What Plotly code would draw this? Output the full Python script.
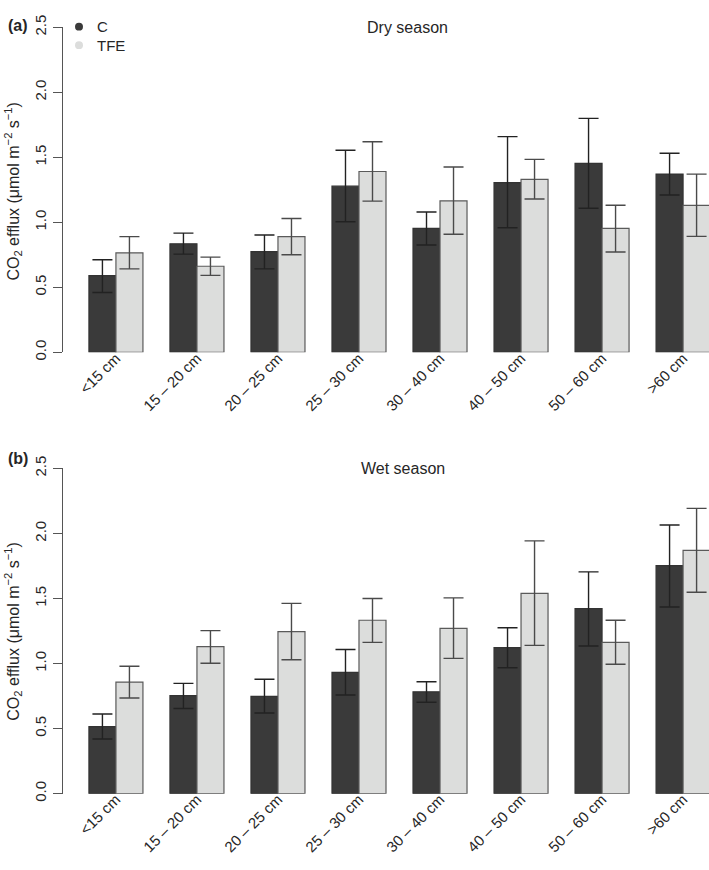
import plotly.graph_objects as go

depths = ["<15 cm", "15 – 20 cm", "20 – 25 cm", "25 – 30 cm",
          "30 – 40 cm", "40 – 50 cm", "50 – 60 cm", ">60 cm"]

# dry season (a)
dry_c = [0.59, 0.835, 0.775, 1.278, 0.953, 1.306, 1.454, 1.371]
dry_c_hi = [0.712, 0.917, 0.902, 1.554, 1.08, 1.659, 1.80, 1.532]
dry_c_lo = [0.46, 0.755, 0.642, 1.005, 0.825, 0.958, 1.108, 1.21]
dry_t = [0.765, 0.662, 0.89, 1.391, 1.165, 1.331, 0.953, 1.131]
dry_t_hi = [0.89, 0.732, 1.03, 1.62, 1.426, 1.484, 1.131, 1.371]
dry_t_lo = [0.642, 0.592, 0.75, 1.163, 0.908, 1.18, 0.772, 0.892]

# wet season (b)
wet_c = [0.515, 0.753, 0.748, 0.933, 0.783, 1.123, 1.423, 1.753]
wet_c_hi = [0.613, 0.848, 0.88, 1.108, 0.86, 1.275, 1.705, 2.065]
wet_c_lo = [0.42, 0.655, 0.62, 0.758, 0.703, 0.968, 1.135, 1.435]
wet_t = [0.858, 1.13, 1.245, 1.333, 1.27, 1.54, 1.163, 1.87]
wet_t_hi = [0.98, 1.253, 1.463, 1.50, 1.505, 1.943, 1.333, 2.193]
wet_t_lo = [0.735, 1.003, 1.03, 1.163, 1.04, 1.14, 0.995, 1.548]

pos = [3 * i for i in range(len(depths))]
C_COL = "#3a3a3a"
T_COL = "#dcdddc"
FONT = "Liberation Sans, Arial, sans-serif"
TXT = "#262626"

fig = go.Figure()

def add_bars(vals, hi, lo, xa, ya, color, line_col, err_col, name):
    fig.add_trace(go.Bar(
        x=pos, y=vals, xaxis=xa, yaxis=ya, name=name, showlegend=False,
        marker=dict(color=color, line=dict(color=line_col, width=1.2)),
        error_y=dict(type="data", symmetric=False,
                     array=[h - v for h, v in zip(hi, vals)],
                     arrayminus=[v - l for v, l in zip(vals, lo)],
                     color=err_col, thickness=1.4, width=10),
    ))

add_bars(dry_c, dry_c_hi, dry_c_lo, "x", "y", C_COL, "#333333", "#222222", "C")
add_bars(dry_t, dry_t_hi, dry_t_lo, "x", "y", T_COL, "#5a5a5a", "#4a4a4a", "TFE")
add_bars(wet_c, wet_c_hi, wet_c_lo, "x2", "y2", C_COL, "#333333", "#222222", "C")
add_bars(wet_t, wet_t_hi, wet_t_lo, "x2", "y2", T_COL, "#5a5a5a", "#4a4a4a", "TFE")

xaxis_style = dict(range=[-1.96, 21.96], tickvals=pos, ticktext=depths,
                   tickangle=-45, showline=False, showgrid=False, zeroline=False,
                   ticks="", anchor="free",
                   tickfont=dict(size=15, color=TXT, family=FONT))
yaxis_style = dict(range=[0, 2.5], tickvals=[0, 0.5, 1, 1.5, 2, 2.5],
                   ticktext=["0.0", "0.5", "1.0", "1.5", "2.0", "2.5"],
                   tickangle=-90, showline=True, linecolor="#555555", linewidth=1.2,
                   ticks="outside", ticklen=9, tickcolor="#555555", tickwidth=1.2,
                   ticklabelstandoff=1,
                   showgrid=False, zeroline=False,
                   tickfont=dict(size=15, color=TXT, family=FONT))

H = 870
fig.update_layout(
    width=709, height=H, plot_bgcolor="white", paper_bgcolor="white",
    margin=dict(l=63, r=0, t=0, b=0),
    barmode="group", bargap=1 / 3, bargroupgap=0,
    xaxis=dict(position=1 - 341 / H, **xaxis_style),
    xaxis2=dict(position=1 - 793 / H, **xaxis_style),
    yaxis=dict(domain=[1 - 347.7 / H, 1 - 14.7 / H], anchor="x", **yaxis_style),
    yaxis2=dict(domain=[1 - 800 / H, 1 - 466.7 / H], anchor="x2", **yaxis_style),
    font=dict(family=FONT, color=TXT),
)

ytitle = "CO<sub>2</sub> efflux (μmol m<sup>−2</sup> s<sup>−1</sup>)"
annots = [
    ("(a)", 18, 13, 16, True), ("(b)", 18, 457, 16, True),
    ("Dry season", 408, 15, 16, False), ("Wet season", 403, 467, 16, False),
]
for txt, px, py, sz, bold in annots:
    fig.add_annotation(text=("<b>%s</b>" % txt) if bold else txt,
                       xref="paper", yref="paper", xanchor="center", yanchor="middle",
                       x=(px - 63) / 646, y=1 - py / H, showarrow=False,
                       font=dict(size=sz, family=FONT, color=TXT))

for cy in [183, 634]:
    fig.add_annotation(text=ytitle, textangle=-90, xref="paper", yref="paper",
                       xanchor="center", yanchor="middle",
                       x=(13 - 63) / 646, y=1 - cy / H, showarrow=False,
                       font=dict(size=16, family=FONT, color=TXT))

# legend (dots + labels)
for lbl, col, ly in [("C", C_COL, 14), ("TFE", T_COL, 33)]:
    fig.add_shape(type="circle", xref="paper", yref="paper",
                  x0=(75 - 63) / 646, x1=(83 - 63) / 646,
                  y0=1 - (ly + 4) / H, y1=1 - (ly - 4) / H,
                  fillcolor=col, line=dict(width=0))
    fig.add_annotation(text=lbl, xref="paper", yref="paper", xanchor="left",
                       yanchor="middle",
                       x=(95 - 63) / 646, y=1 - ly / H, showarrow=False,
                       font=dict(size=15, family=FONT, color=TXT))

fig.write_html("out.html", config={"displayModeBar": False},
               post_script="document.body.style.margin='0px';")
